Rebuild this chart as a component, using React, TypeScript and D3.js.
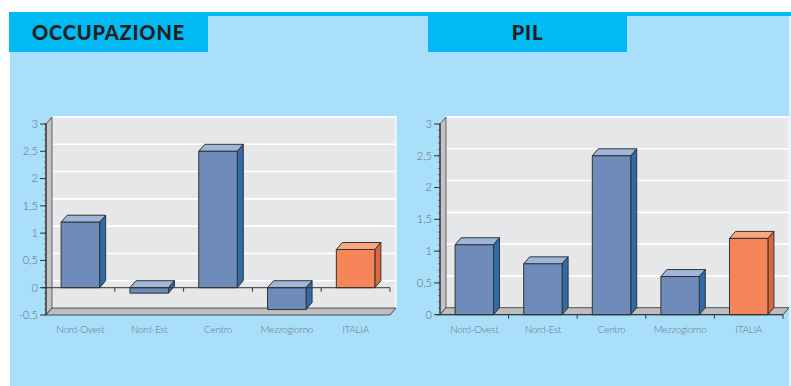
import React from "react";
import * as d3 from "d3";

const categories = ["Nord-Ovest", "Nord-Est", "Centro", "Mezzogiorno", "ITALIA"];
const occupazioneValues = [1.2, -0.1, 2.5, -0.4, 0.7];
const pilValues = [1.1, 0.8, 2.5, 0.6, 1.2];
const occupazioneTicks = [-0.5, 0, 0.5, 1, 1.5, 2, 2.5, 3];
const pilTicks = [0, 0.5, 1, 1.5, 2, 2.5, 3];

const W = 791;
const H = 386;
const DX = 6;
const DY = -7;

const fmt = (v: number) => String(v).replace(".", ",");

const blue = { front: "#6e8bb9", top: "#9db6da", side: "#2f6aa9" };
const orange = { front: "#f6865a", top: "#f9a77e", side: "#e1653a" };

type ChartProps = {
  title: string;
  boxX: number;
  x0: number;
  x1: number;
  yTop: number;
  yBottom: number;
  domain: [number, number];
  values: number[];
  ticks: number[];
};

function Chart({ title, boxX, x0, x1, yTop, yBottom, domain, values, ticks }: ChartProps) {
  const y = d3.scaleLinear().domain(domain).range([yBottom, yTop]);
  const x = d3
    .scaleBand<string>()
    .domain(categories)
    .range([x0, x1])
    .paddingInner(0.44)
    .paddingOuter(0.22);
  const step = x.step();
  const bw = x.bandwidth();
  const [lo, hi] = domain;
  const yLo = y(lo);
  const yHi = y(hi);
  const y0 = y(0);
  const minor = d3.range(lo, hi + 1e-9, 0.1);
  const bounds = d3.range(1, categories.length + 1).map((i) => x0 + i * step);

  const poly = (pts: [number, number][]) => pts.map((p) => p.join(",")).join(" ");

  return (
    <g>
      {/* title tab */}
      <rect x={boxX} y={16} width={199} height={36} fill="#00baf1" />
      <text
        x={boxX + 99.5}
        y={39.5}
        textAnchor="middle"
        fontFamily="Lato, 'DejaVu Sans', sans-serif"
        fontWeight={900}
        fontSize={20}
        fill="#231f20"
        letterSpacing={0.8}
      >
        {title}
      </text>

      {/* back wall */}
      <rect
        x={x0 + DX}
        y={yHi + DY}
        width={x1 - x0}
        height={yLo - yHi}
        fill="#e6e7e8"
        stroke="#f7f9fa"
        strokeWidth={1.5}
      />
      {ticks.map((t) => (
        <line
          key={"g" + t}
          x1={x0 + DX}
          x2={x1 + DX}
          y1={y(t) + DY}
          y2={y(t) + DY}
          stroke="#ffffff"
          strokeWidth={1.6}
        />
      ))}

      {/* side wall */}
      <polygon
        points={poly([
          [x0, yHi],
          [x0 + DX, yHi + DY],
          [x0 + DX, yLo + DY],
          [x0, yLo],
        ])}
        fill="#c3c4c6"
        stroke="#3a3a3a"
        strokeWidth={0.8}
      />

      {/* floor */}
      <polygon
        points={poly([
          [x0, yLo],
          [x1, yLo],
          [x1 + DX, yLo + DY],
          [x0 + DX, yLo + DY],
        ])}
        fill="#bcbec0"
        stroke="#3a3a3a"
        strokeWidth={0.9}
      />

      {/* bars */}
      {categories.map((c, i) => {
        const v = values[i];
        const col = c === "ITALIA" ? orange : blue;
        const bx = x(c)!;
        const yt = Math.min(y(v), y0);
        const yb = Math.max(y(v), y0);
        return (
          <g key={c} stroke="#333333" strokeWidth={1} strokeLinejoin="round">
            <polygon
              points={poly([
                [bx, yt],
                [bx + DX, yt + DY],
                [bx + bw + DX, yt + DY],
                [bx + bw, yt],
              ])}
              fill={col.top}
            />
            <polygon
              points={poly([
                [bx + bw, yt],
                [bx + bw + DX, yt + DY],
                [bx + bw + DX, yb + DY],
                [bx + bw, yb],
              ])}
              fill={col.side}
            />
            <rect x={bx} y={yt} width={bw} height={yb - yt} fill={col.front} />
          </g>
        );
      })}

      {/* category axis at zero */}
      <line x1={x0 - 4} x2={x1} y1={y0} y2={y0} stroke="#333" strokeWidth={1} />
      {bounds.map((bxp) => (
        <line key={"b" + bxp} x1={bxp} x2={bxp} y1={y0} y2={y0 + 4} stroke="#333" strokeWidth={1} />
      ))}

      {/* value axis */}
      <line x1={x0} x2={x0} y1={yHi} y2={yLo} stroke="#333" strokeWidth={1.2} />
      {minor.map((m) => (
        <line key={"m" + m} x1={x0 - 2} x2={x0} y1={y(m)} y2={y(m)} stroke="#444" strokeWidth={0.6} />
      ))}
      {ticks.map((t) => (
        <g key={"t" + t}>
          <line x1={x0 - 6} x2={x0} y1={y(t)} y2={y(t)} stroke="#333" strokeWidth={1} />
          <text
            x={x0 - 8}
            y={y(t) + 3.8}
            textAnchor="end"
            fontFamily="Lato, sans-serif"
            fontWeight={300}
            fontSize={11}
            fill="#5d6d7e"
          >
            {fmt(t)}
          </text>
        </g>
      ))}

      {/* category labels */}
      {categories.map((c) => (
        <text
          key={"l" + c}
          x={x(c)! + bw / 2}
          y={333}
          textAnchor="middle"
          fontFamily="Lato, sans-serif"
          fontWeight={300}
          fontSize={10}
          letterSpacing={-0.3}
          fill="#66768a"
        >
          {c}
        </text>
      ))}
    </g>
  );
}

export default function App() {
  return (
    <svg
      width={W}
      height={H}
      viewBox={`0 0 ${W} ${H}`}
      style={{ position: "absolute", left: 0, top: 0, display: "block" }}
    >
      <rect x={0} y={0} width={W} height={H} fill="#ffffff" />
      <rect x={10} y={16} width={779} height={H - 16} fill="#aadff9" />
      <rect x={789} y={16} width={2} height={H - 16} fill="#dcf2fc" />
      <rect x={9} y={12} width={W - 9} height={4} fill="#00baf1" />
      <Chart
        title="OCCUPAZIONE"
        boxX={9}
        x0={46}
        x1={390}
        yTop={124}
        yBottom={315}
        domain={[-0.5, 3]}
        values={occupazioneValues}
        ticks={occupazioneTicks}
      />
      <Chart
        title="PIL"
        boxX={428}
        x0={440}
        x1={783}
        yTop={124}
        yBottom={314.7}
        domain={[0, 3]}
        values={pilValues}
        ticks={pilTicks}
      />
    </svg>
  );
}
